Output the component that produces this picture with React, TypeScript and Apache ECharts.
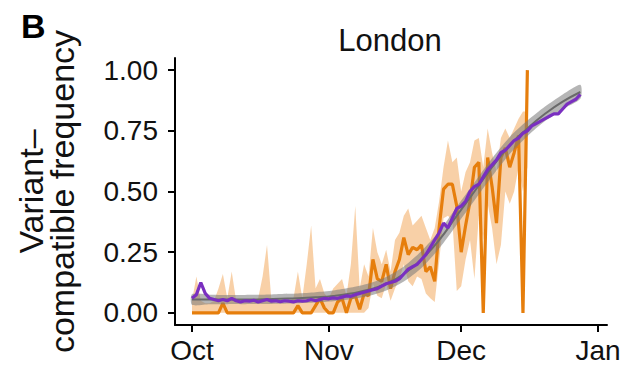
import React, { useEffect, useRef } from "react";
import * as echarts from "echarts";

// x positions are days since 1 October
const X_TICK_DAYS = [0, 31, 61, 92];
const X_TICK_LABELS = ["Oct", "Nov", "Dec", "Jan"];
const Y_TICKS = [0, 0.25, 0.5, 0.75, 1];

// orange: daily observed frequency (Oct 1 .. Dec 16) with its interval
const ORANGE_MEAN = [
  0, 0, 0, 0, 0, 0, 0, 0.04, 0, 0,
  0, 0, 0, 0, 0, 0, 0, 0, 0, 0,
  0, 0, 0, 0, 0.03, 0, 0, 0, 0.03, 0.06,
  0.02, 0, 0, 0.045, 0.06, 0, 0.06, 0.07, 0.015, 0.08,
  0.07, 0.22, 0.14, 0.13, 0.2, 0.1, 0.17, 0.22, 0.31, 0.24,
  0.27, 0.26, 0.28, 0.17, 0.19, 0.13, 0.35, 0.51, 0.53, 0.53,
  0.44, 0.25, 0.36, 0.46, 0.6, 0.62, 0, 0.64, 0.52, 0.37,
  0.64, 0.68, 0.6, 0.66, 0.73, 0, 1.0,
];
const ORANGE_UPPER = [
  0.05, 0.15, 0.05, 0.04, 0.04, 0.05, 0.1, 0.16, 0.06, 0.17,
  0.05, 0.04, 0.05, 0.04, 0.05, 0.06, 0.15, 0.28, 0.05, 0.04,
  0.05, 0.04, 0.05, 0.06, 0.17, 0.06, 0.2, 0.36, 0.1, 0.14,
  0.08, 0.06, 0.1, 0.12, 0.14, 0.07, 0.2, 0.44, 0.1, 0.2,
  0.15, 0.35, 0.25, 0.2, 0.26, 0.17, 0.3, 0.33, 0.4, 0.43,
  0.36, 0.38, 0.4, 0.35, 0.3, 0.35, 0.46, 0.6, 0.71, 0.62,
  0.64, 0.5, 0.58, 0.62, 0.71, 0.72, 0.6, 0.76, 0.66, 0.58,
  0.72, 0.76, 0.72, 0.76, 0.8, 0.83, 0.83,
];
const ORANGE_LOWER = [
  0, 0, 0, 0, 0, 0, 0, 0, 0, 0,
  0, 0, 0, 0, 0, 0, 0, 0, 0, 0,
  0, 0, 0, 0, 0, 0, 0, 0, 0, 0,
  0, 0, 0, 0, 0, 0, 0, 0, 0, 0,
  0.02, 0.12, 0.07, 0.06, 0.12, 0.05, 0.1, 0.14, 0.2, 0.13,
  0.11, 0.15, 0.14, 0.08, 0.06, 0.045, 0.21, 0.39, 0.4, 0.38,
  0.09, 0.11, 0.22, 0.3, 0.14, 0.4, 0.3, 0.45, 0.35, 0.2,
  0.28, 0.5, 0.45, 0.5, 0.6, 0.5, 0.6,
];

// purple: daily frequency (Oct 1 .. Dec 28)
const PURPLE = [
  0.06, 0.075, 0.125, 0.08, 0.06, 0.055, 0.05, 0.055, 0.05, 0.06,
  0.05, 0.045, 0.05, 0.048, 0.052, 0.045, 0.05, 0.055, 0.048, 0.05,
  0.046, 0.05, 0.048, 0.045, 0.05, 0.048, 0.05, 0.055, 0.05, 0.055,
  0.06, 0.058, 0.062, 0.06, 0.065, 0.07, 0.068, 0.075, 0.08, 0.085,
  0.09, 0.095, 0.1, 0.11, 0.12, 0.125, 0.13, 0.14, 0.16, 0.18,
  0.19, 0.2, 0.22, 0.24, 0.27, 0.3, 0.33, 0.37, 0.35, 0.39,
  0.43, 0.44, 0.46, 0.5, 0.52, 0.53, 0.56, 0.59, 0.61, 0.63,
  0.66, 0.67, 0.69, 0.71, 0.72, 0.74, 0.75, 0.77, 0.78, 0.79,
  0.8, 0.81, 0.82, 0.82, 0.84, 0.86, 0.87, 0.88, 0.9,
];

// gray: fitted curve with its band, every 4 days
const GRAY_DAYS = [0, 4, 8, 12, 16, 20, 24, 28, 32, 36, 40, 44, 48, 52, 56, 60, 64, 68, 72, 76, 80, 84, 88];
const GRAY_MID = [0.055, 0.055, 0.055, 0.055, 0.056, 0.058, 0.06, 0.064, 0.07, 0.08, 0.095, 0.12, 0.16, 0.22, 0.3, 0.4, 0.5, 0.6, 0.69, 0.76, 0.82, 0.87, 0.91];
const GRAY_LO = [0.033, 0.035, 0.036, 0.036, 0.037, 0.038, 0.04, 0.043, 0.048, 0.056, 0.069, 0.092, 0.129, 0.185, 0.265, 0.363, 0.463, 0.563, 0.655, 0.728, 0.79, 0.84, 0.882];
const GRAY_HI = [0.077, 0.075, 0.074, 0.074, 0.075, 0.078, 0.08, 0.085, 0.092, 0.104, 0.121, 0.148, 0.191, 0.255, 0.335, 0.437, 0.537, 0.637, 0.725, 0.792, 0.85, 0.9, 0.94];

const FONT = "'Liberation Sans', Arial, Helvetica, sans-serif";

function bandSeries(xs: number[], lo: number[], hi: number[], fill: string, smooth: number, z: number) {
  return {
    type: "custom",
    silent: true,
    z,
    clip: true,
    data: xs.map((x, i) => [x, lo[i], hi[i]]),
    encode: { x: 0, y: [1, 2] },
    renderItem: (params: any, api: any) => {
      if (params.dataIndex !== 0) return null;
      const top = xs.map((x, i) => api.coord([x, hi[i]]));
      const bot = xs.map((x, i) => api.coord([x, lo[i]])).reverse();
      return {
        type: "polygon",
        shape: { points: top.concat(bot), smooth },
        style: { fill },
      };
    },
  };
}

export default function App() {
  const ref = useRef<HTMLDivElement>(null);
  useEffect(() => {
    const chart = echarts.init(ref.current!, null, { renderer: "svg" });
    const days = (arr: number[]) => arr.map((_, i) => i);
    const daily = (arr: number[]) => arr.map((v, i) => [i, v]);
    const option: any = {
      animation: false,
      backgroundColor: "#ffffff",
      grid: { left: 175, right: 14, top: 58, bottom: 46, containLabel: false, outerBoundsMode: "none" },
      xAxis: {
        type: "value",
        min: -3.85,
        max: 94.04,
        splitLine: { show: false },
        axisLine: { show: true, onZero: false, lineStyle: { color: "#000", width: 2 } },
        axisTick: { show: true, length: 7, customValues: X_TICK_DAYS, lineStyle: { color: "#000", width: 2 } },
        axisLabel: {
          customValues: X_TICK_DAYS,
          margin: 11,
          fontSize: 28,
          fontFamily: FONT,
          color: "#111",
          formatter: (v: number) => X_TICK_LABELS[X_TICK_DAYS.indexOf(v)] ?? "",
        },
      },
      yAxis: {
        type: "value",
        min: -0.05,
        max: 1.05,
        splitLine: { show: false },
        axisLine: { show: true, onZero: false, lineStyle: { color: "#000", width: 2 } },
        axisTick: { show: true, length: 7, customValues: Y_TICKS, lineStyle: { color: "#000", width: 2 } },
        axisLabel: {
          customValues: Y_TICKS,
          margin: 17,
          fontSize: 28,
          fontFamily: FONT,
          color: "#111",
          formatter: (v: number) => v.toFixed(2),
        },
        name: "Variant–\ncompatible frequency",
        nameLocation: "middle",
        nameRotate: 90,
        nameGap: 98,
        nameTextStyle: { fontSize: 34, lineHeight: 31, fontFamily: FONT, color: "#111", align: "center" },
      },
      graphic: [
        { type: "text", left: 21, top: 9, style: { text: "B", font: `bold 34px ${FONT}`, fill: "#000" } },
        { type: "text", x: 390, y: 40, style: { text: "London", font: `31px ${FONT}`, fill: "#111", textAlign: "center", textVerticalAlign: "middle" } },
      ],
      series: [
        bandSeries(days(ORANGE_LOWER), ORANGE_LOWER, ORANGE_UPPER, "rgba(240,150,60,0.45)", 0, 1),
        {
          type: "line", name: "orange", symbol: "none", silent: true,
          lineStyle: { color: "#E67E0C", width: 3.2 }, data: daily(ORANGE_MEAN), z: 2,
        },
        bandSeries(GRAY_DAYS, GRAY_LO, GRAY_HI, "rgba(120,120,120,0.55)", 0.25, 3),
        {
          type: "line", name: "gray", symbol: "none", silent: true, smooth: true,
          lineStyle: { color: "#6a6a6a", width: 2 }, data: GRAY_DAYS.map((d, i) => [d, GRAY_MID[i]]), z: 4,
        },
        {
          type: "line", name: "purple", symbol: "none", silent: true,
          lineStyle: { color: "#7A2FC0", width: 3.2 }, data: daily(PURPLE), z: 5,
        },
      ],
    };
    chart.setOption(option);
    return () => chart.dispose();
  }, []);
  return (
    <div
      ref={ref}
      style={{ position: "fixed", left: 0, top: 0, width: 621, height: 371, overflow: "hidden", background: "#fff" }}
    />
  );
}
